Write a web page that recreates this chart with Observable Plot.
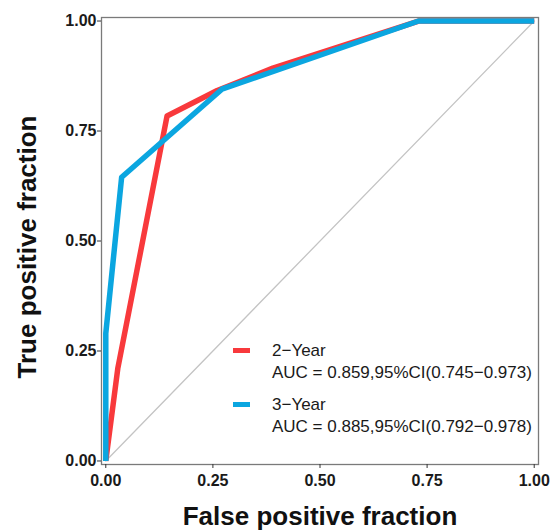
<!DOCTYPE html>
<html>
<head>
<meta charset="utf-8">
<script src="https://cdn.jsdelivr.net/npm/d3@7"></script>
<script src="https://cdn.jsdelivr.net/npm/@observablehq/plot@0.6"></script>
<style>
  html, body { margin: 0; padding: 0; background: #fff; }
  #wrap { position: relative; width: 556px; height: 532px; font-family: "Liberation Sans", Arial, sans-serif; }
  .leg { position: absolute; left: 233px; font-size: 17px; color: #1a1a1a; line-height: 21px; }
  .sw { position: absolute; left: 0; width: 17px; height: 5px; }
  .lt { position: absolute; left: 39px; white-space: nowrap; }
</style>
</head>
<body>
<div id="wrap"></div>
<script>
// ROC curve data
const series = ["2\u2212Year", "3\u2212Year"];
const colors = ["#F8393C", "#0BA6E0"];
const aucLabels = ["AUC = 0.859,95%CI(0.745\u22120.973)", "AUC = 0.885,95%CI(0.792\u22120.978)"];
const fpr2 = [0, 0.028, 0.143, 0.26, 0.39, 0.73, 1];
const tpr2 = [0, 0.21, 0.784, 0.842, 0.893, 1, 1];
const fpr3 = [0, 0, 0.037, 0.271, 0.73, 1];
const tpr3 = [0, 0.29, 0.645, 0.845, 1, 1];
const ticks = [0, 0.25, 0.5, 0.75, 1];
const diag = [0, 1];

const rows = [
  ...fpr2.map((x, i) => ({s: series[0], x, y: tpr2[i]})),
  ...fpr3.map((x, i) => ({s: series[1], x, y: tpr3[i]}))
];
const fmt = d3.format(".2f");

const chart = Plot.plot({
  width: 556,
  height: 532,
  marginLeft: 101,
  marginRight: 18,
  marginTop: 17,
  marginBottom: 68,
  style: {fontFamily: "'Liberation Sans', Arial, sans-serif", background: "#fff", overflow: "visible"},
  x: {domain: [-0.01, 1.01], axis: null},
  y: {domain: [-0.008, 1.008], axis: null},
  color: {domain: series, range: colors},
  marks: [
    Plot.line(diag, {x: d => d, y: d => d, stroke: "#C4C4C4", strokeWidth: 1.3}),
    Plot.line(rows, {x: "x", y: "y", z: "s", stroke: "s", strokeWidth: 5.5, strokeLinejoin: "round", strokeLinecap: "butt"}),
    Plot.frame({stroke: "#7a7a7a", strokeWidth: 1.3}),
    Plot.axisX(ticks, {anchor: "bottom", tickSize: 4, tickPadding: 6, tickFormat: fmt, fontSize: 16, fontWeight: "bold", fill: "#1a1a1a", stroke: "#333", label: null}),
    Plot.axisY(ticks, {anchor: "left", tickSize: 4, tickPadding: 1, tickFormat: fmt, fontSize: 16, fontWeight: "bold", fill: "#1a1a1a", stroke: "#333", label: null}),
    Plot.text(["False positive fraction"], {frameAnchor: "bottom", dy: 60, fontSize: 26, fontWeight: "bold", fill: "#111"}),
    Plot.text(["True positive fraction"], {frameAnchor: "left", textAnchor: "middle", dx: -74, dy: 6, rotate: -90, fontSize: 26, fontWeight: "bold", fill: "#111"})
  ]
});

const wrap = document.getElementById("wrap");
wrap.appendChild(chart);

// Legend (HTML overlay)
const legTops = [340, 394];
series.forEach((s, i) => {
  const g = document.createElement("div");
  g.className = "leg";
  g.style.top = legTops[i] + "px";
  const sw = document.createElement("div");
  sw.className = "sw";
  sw.style.top = "8px";
  sw.style.background = colors[i];
  g.appendChild(sw);
  const t1 = document.createElement("div");
  t1.className = "lt";
  t1.style.top = "0px";
  t1.textContent = s;
  g.appendChild(t1);
  const t2 = document.createElement("div");
  t2.className = "lt";
  t2.style.top = "22px";
  t2.textContent = aucLabels[i];
  g.appendChild(t2);
  wrap.appendChild(g);
});
</script>
</body>
</html>
